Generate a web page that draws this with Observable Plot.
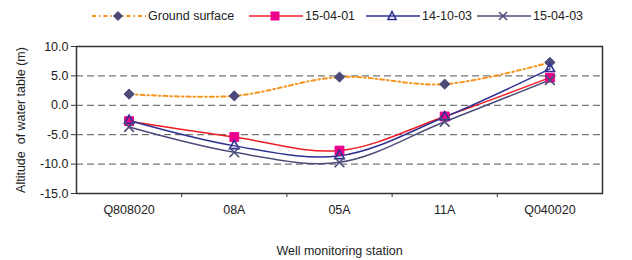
<!DOCTYPE html>
<html><head><meta charset="utf-8">
<script src="https://cdn.jsdelivr.net/npm/d3@7"></script>
<script src="https://cdn.jsdelivr.net/npm/@observablehq/plot@0.6"></script>
<style>
body{margin:0;background:#fff;font-family:"Liberation Sans",Arial,sans-serif;}
#wrap{position:relative;width:632px;height:260px;}
#legend{position:absolute;left:0;top:0;width:632px;height:30px;font-size:12.5px;color:#222;}
.item{position:absolute;top:9px;display:flex;align-items:center;}
.item svg{display:block}
#chart{position:absolute;left:0;top:30px;}
</style></head>
<body>
<div id="wrap"><div id="legend"></div><div id="chart"></div></div>
<script>
const stations = ["Q808020","08A","05A","11A","Q040020"];
const groundSurface = [1.9, 1.6, 4.8, 3.6, 7.3];
const s150401 = [-2.7, -5.4, -7.7, -1.9, 4.7];
const s141003 = [-2.6, -6.9, -8.6, -2.0, 6.2];
const s150403 = [-3.7, -8.0, -9.7, -2.8, 4.3];
const yTicks = [-15, -10, -5, 0, 5, 10];
const gridTicks = [-10, -5, 0, 5];

const series = [
  {name:"Ground surface", values:groundSurface, stroke:"#f7941d", dash:"4,3,1.5,3", width:2, marker:"diamond2", mfill:"#4b4a7a", mstroke:"#4b4a7a"},
  {name:"15-04-01", values:s150401, stroke:"#ee1c25", dash:null, width:1.5, marker:"square", mfill:"#ec008c", mstroke:"#ec008c"},
  {name:"14-10-03", values:s141003, stroke:"#2e3192", dash:null, width:1.5, marker:"triangle2", mfill:"none", mstroke:"#2e3192"},
  {name:"15-04-03", values:s150403, stroke:"#4d4d7a", dash:null, width:1.5, marker:"times", mfill:"none", mstroke:"#4d4d7a"}
];

const rows = series.flatMap(s => s.values.map((v,i)=>({series:s.name, i:i+0.5, v})));

const marks = [
  Plot.ruleY(gridTicks, {stroke:"#555", strokeDasharray:"7,4", strokeWidth:1}),
  Plot.frame({stroke:"#333", strokeWidth:1.5}),
  Plot.axisY({ticks:yTicks, tickFormat:d=>d.toFixed(1), tickSize:5, tickPadding:3, fontSize:12.5, label:null, stroke:"#333"}),
  Plot.axisX({ticks:stations.map((d,i)=>i+0.5), tickFormat:(d)=>stations[Math.round(d-0.5)], tickSize:0, tickPadding:12, fontSize:12.5, label:null}),
  Plot.axisX({ticks:[1,2,3,4], tickFormat:()=>"", tickSize:4, stroke:"#333", label:null}),
];
for (const s of series) {
  const d = rows.filter(r=>r.series===s.name);
  marks.push(Plot.line(d, {x:"i", y:"v", curve:"catmull-rom", stroke:s.stroke, strokeWidth:s.width, strokeDasharray:s.dash}));
}
for (const s of series) {
  const d = rows.filter(r=>r.series===s.name);
  const r = s.marker==="square" ? 5 : s.marker==="diamond2" ? 4.6 : 4.5;
  marks.push(Plot.dot(d, {x:"i", y:"v", symbol:s.marker, r, fill:s.mfill, stroke:s.mstroke, strokeWidth: s.marker==="times"||s.marker==="triangle2" ? 1.6 : 1}));
}
marks.push(Plot.text(["Altitude  of water table (m)"], {frameAnchor:"left", textAnchor:"middle", dx:-56, rotate:-90, fontSize:12.5, fill:"#222"}));
marks.push(Plot.text(["Well monitoring station"], {frameAnchor:"bottom", dy:61, fontSize:12.5, fill:"#222"}));

const chart = Plot.plot({
  width:632, height:230,
  marginTop:16, marginBottom:67, marginLeft:76, marginRight:30,
  style:{fontFamily:"'Liberation Sans', Arial, sans-serif", color:"#222", background:"#fff"},
  x:{domain:[0,5], axis:null},
  y:{domain:[-15,10], axis:null},
  marks
});
document.getElementById("chart").appendChild(chart);

// legend
const leg = document.getElementById("legend");
const legX = [92, 249, 366, 477];
const symPath = {
  diamond2: '<path d="M26,2 L31,7 L26,12 L21,7Z" fill="#4b4a7a"/>',
  square: '<rect x="21.5" y="2.5" width="9" height="9" fill="#ec008c"/>',
  triangle2: '<path d="M26,2.5 L30,10.5 L22,10.5Z" fill="none" stroke="#2e3192" stroke-width="1.6"/>',
  times: '<path d="M22,3 L30,11 M30,3 L22,11" stroke="#4d4d7a" stroke-width="1.6"/>'
};
series.forEach((s,k)=>{
  const div = document.createElement("div");
  div.className = "item";
  div.style.left = legX[k]+"px";
  div.innerHTML = `<svg width="54" height="14"><line x1="0" y1="7" x2="54" y2="7" stroke="${s.stroke}" stroke-width="${s.width}" ${s.dash?`stroke-dasharray="${s.dash}"`:""}/>${symPath[s.marker]}</svg><span style="margin-left:2px">${s.name}</span>`;
  leg.appendChild(div);
});
</script>
</body></html>
